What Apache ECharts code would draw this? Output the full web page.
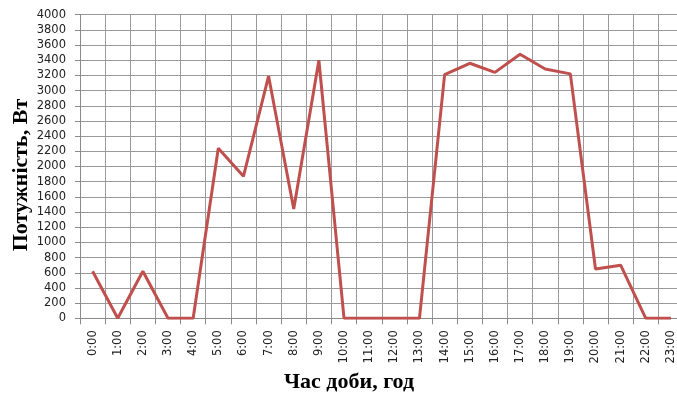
<!DOCTYPE html>
<html><head><meta charset="utf-8">
<script src="https://cdn.jsdelivr.net/npm/echarts@6/dist/echarts.min.js"></script>
<style>html,body{margin:0;padding:0;background:#fff;overflow:hidden;width:677px;height:394px}#c{width:684px;height:394px}</style>
</head><body><div id="c"></div>
<script>
const categories = ['0:00','1:00','2:00','3:00','4:00','5:00','6:00','7:00','8:00','9:00','10:00','11:00','12:00','13:00','14:00','15:00','16:00','17:00','18:00','19:00','20:00','21:00','22:00','23:00'];
const power = [620,0,620,0,0,2240,1870,3190,1440,3400,0,0,0,0,3210,3360,3240,3480,3285,3220,650,700,0,0];
const yTicks = {min:0, max:4000, interval:200};
const yTitle = 'Потужність, Вт';
const xTitle = 'Час доби, год';

const chart = echarts.init(document.getElementById('c'), null, {renderer:'canvas'});
chart.setOption({
  animation:false,
  grid:{left:80, top:14.7, right:0.5, bottom:75.7, containLabel:false},
  xAxis:{type:'category', data:categories, boundaryGap:true,
    axisLine:{show:true, lineStyle:{color:'#8a8a8a', width:1}},
    axisTick:{show:true, length:6, alignWithLabel:false, lineStyle:{color:'#8a8a8a'}},
    splitLine:{show:true, lineStyle:{color:'#9a9a9a', width:1}},
    axisLabel:{rotate:90, margin:12, fontFamily:'DejaVu Sans', fontSize:11.5, color:'#222', interval:0}
  },
  yAxis:{type:'value', min:yTicks.min, max:yTicks.max, interval:yTicks.interval,
    axisLine:{show:true, lineStyle:{color:'#8a8a8a'}},
    axisTick:{show:true, length:5, lineStyle:{color:'#8a8a8a'}},
    splitLine:{show:true, lineStyle:{color:'#9a9a9a', width:1}},
    axisLabel:{margin:14, fontFamily:'DejaVu Sans', fontSize:11.5, color:'#222', formatter:(v)=>String(v)}
  },
  graphic:[
    {type:'text', x:21, y:175, rotation:Math.PI/2, style:{text:yTitle, font:'bold 22px "Liberation Serif"', fill:'#000', textAlign:'center', textVerticalAlign:'middle'}},
    {type:'text', x:349, y:382, style:{text:xTitle, font:'bold 22px "Liberation Serif"', fill:'#000', textAlign:'center', textVerticalAlign:'middle'}}
  ],
  series:[{type:'line', data:power, symbol:'none', lineStyle:{color:'#C0504D', width:3}, itemStyle:{color:'#C0504D'}}]
});
</script></body></html>
